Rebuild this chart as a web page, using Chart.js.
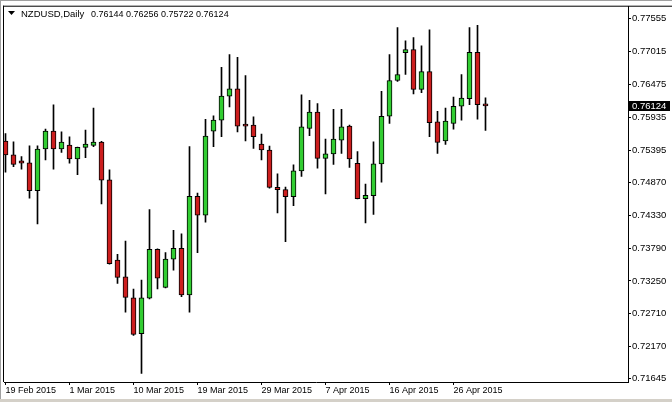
<!DOCTYPE html>
<html>
<head>
<meta charset="utf-8">
<title>NZDUSD Daily</title>
<script src="https://cdn.jsdelivr.net/npm/chart.js@4.4.0/dist/chart.umd.min.js"></script>
<style>
  html, body { margin: 0; padding: 0; background: #fff; }
  canvas { display: block; }
</style>
</head>
<body>
<canvas id="chart" width="672" height="402"></canvas>
<script>
// Daily candles, Sunday sessions included (MT4 style)
const dates = [
  '19 Feb 2015', '20 Feb 2015', '22 Feb 2015', '23 Feb 2015', '24 Feb 2015', '25 Feb 2015', '26 Feb 2015', '27 Feb 2015',
  '1 Mar 2015', '2 Mar 2015', '3 Mar 2015', '4 Mar 2015', '5 Mar 2015', '6 Mar 2015', '8 Mar 2015', '9 Mar 2015',
  '10 Mar 2015', '11 Mar 2015', '12 Mar 2015', '13 Mar 2015', '15 Mar 2015', '16 Mar 2015', '17 Mar 2015', '18 Mar 2015',
  '19 Mar 2015', '20 Mar 2015', '22 Mar 2015', '23 Mar 2015', '24 Mar 2015', '25 Mar 2015', '26 Mar 2015', '27 Mar 2015',
  '29 Mar 2015', '30 Mar 2015', '31 Mar 2015', '1 Apr 2015', '2 Apr 2015', '3 Apr 2015', '5 Apr 2015', '6 Apr 2015',
  '7 Apr 2015', '8 Apr 2015', '9 Apr 2015', '10 Apr 2015', '12 Apr 2015', '13 Apr 2015', '14 Apr 2015', '15 Apr 2015',
  '16 Apr 2015', '17 Apr 2015', '19 Apr 2015', '20 Apr 2015', '21 Apr 2015', '22 Apr 2015', '23 Apr 2015', '24 Apr 2015',
  '26 Apr 2015', '27 Apr 2015', '28 Apr 2015', '29 Apr 2015', '30 Apr 2015'
];

const opens = [
  0.75546, 0.75318, 0.75220, 0.75187, 0.74731, 0.75415, 0.75709, 0.75415,
  0.75481, 0.75253, 0.75442, 0.75474, 0.75530, 0.74910, 0.73590, 0.73318,
  0.72971, 0.72385, 0.72965, 0.73770, 0.73144, 0.73607, 0.73786, 0.73020,
  0.74638, 0.74329, 0.75709, 0.75888, 0.76284, 0.76403, 0.75803, 0.75807,
  0.75497, 0.75399, 0.74785, 0.74747, 0.74633, 0.75057, 0.75751, 0.76023,
  0.75262, 0.75334, 0.75562, 0.75790, 0.75181, 0.74601, 0.74650, 0.75171,
  0.75953, 0.76540, 0.76996, 0.77045, 0.76393, 0.76686, 0.75860, 0.75546,
  0.75833, 0.76116, 0.76240, 0.77001, 0.76144
];
const highs = [
  0.75670, 0.75534, 0.75290, 0.75469, 0.75469, 0.75741, 0.76142, 0.75697,
  0.75616, 0.75448, 0.75725, 0.76088, 0.75540, 0.75073, 0.73688, 0.73905,
  0.73118, 0.73265, 0.74422, 0.73775, 0.73714, 0.74079, 0.74024, 0.75453,
  0.74692, 0.75904, 0.75958, 0.76757, 0.76964, 0.76920, 0.76621, 0.75942,
  0.75660, 0.75464, 0.75008, 0.74790, 0.75155, 0.76305, 0.76214, 0.76159,
  0.75578, 0.76067, 0.76067, 0.75807, 0.75371, 0.74839, 0.75534, 0.76361,
  0.76964, 0.77408, 0.77192, 0.77245, 0.77110, 0.77371, 0.76035, 0.76088,
  0.76268, 0.76638, 0.77408, 0.77446, 0.76256
];
const lows = [
  0.75034, 0.75127, 0.75083, 0.74610, 0.74187, 0.75236, 0.75083, 0.75360,
  0.75181, 0.74992, 0.75274, 0.75453, 0.74513, 0.73525, 0.73209, 0.72737,
  0.72357, 0.71733, 0.72955, 0.73118, 0.73134, 0.73428, 0.72992, 0.72737,
  0.73714, 0.74214, 0.75453, 0.75616, 0.76105, 0.75697, 0.75546, 0.75425,
  0.75236, 0.74773, 0.74366, 0.73894, 0.74483, 0.74964, 0.75632, 0.75099,
  0.74676, 0.75164, 0.75344, 0.75111, 0.74595, 0.74203, 0.74340, 0.74871,
  0.75833, 0.76524, 0.76638, 0.76321, 0.76338, 0.75616, 0.75344, 0.75490,
  0.75741, 0.75888, 0.76142, 0.75904, 0.75722
];
const closes = [
  0.75318, 0.75164, 0.75181, 0.74731, 0.75415, 0.75709, 0.75415, 0.75530,
  0.75253, 0.75442, 0.75497, 0.75530, 0.74904, 0.73535, 0.73307, 0.72981,
  0.72373, 0.72971, 0.73770, 0.73297, 0.73607, 0.73786, 0.73020, 0.74638,
  0.74329, 0.75627, 0.75888, 0.76284, 0.76403, 0.75790, 0.75790, 0.75616,
  0.75399, 0.74785, 0.74747, 0.74633, 0.75057, 0.75779, 0.76023, 0.75262,
  0.75334, 0.75578, 0.75779, 0.75253, 0.74601, 0.74654, 0.75171, 0.75953,
  0.76540, 0.76638, 0.77045, 0.76393, 0.76686, 0.75849, 0.75523, 0.75872,
  0.76116, 0.76251, 0.77001, 0.76142, 0.76124
];

const yTicks = [0.77555, 0.77015, 0.76475, 0.75935, 0.75395, 0.74870, 0.74330, 0.73790, 0.73250, 0.72710, 0.72170, 0.71645];
const xTickLabels = ['19 Feb 2015', '1 Mar 2015', '10 Mar 2015', '19 Mar 2015', '29 Mar 2015', '7 Apr 2015', '16 Apr 2015', '26 Apr 2015'];

const symbol = 'NZDUSD,Daily';

const BULL = '#32cd32';
const BEAR = '#cc1e1e';
const FONT = '"Liberation Sans", Arial, sans-serif';

const idx = dates.map((d, i) => i);
const last = dates.length - 1;

// frame, header text and current price tag
const decorations = {
  id: 'decorations',
  afterDraw(chart) {
    const ctx = chart.ctx;
    const area = chart.chartArea;
    ctx.save();

    // window edges
    ctx.fillStyle = '#a0a0a0';
    ctx.fillRect(0, 0, 672, 1);
    ctx.fillRect(0, 0, 1, 402);
    ctx.fillStyle = '#d4d0c8';
    ctx.fillRect(0, 399, 672, 3);

    // plot box top and left
    ctx.fillStyle = '#000';
    ctx.fillRect(area.left - 1, area.top - 1, 672 - area.left + 1, 1);
    ctx.fillRect(area.left - 1, area.top - 1, 1, area.bottom - area.top + 1);

    // header
    ctx.beginPath();
    ctx.moveTo(8, 11);
    ctx.lineTo(15, 11);
    ctx.lineTo(11.5, 15);
    ctx.closePath();
    ctx.fill();
    ctx.font = '9.5px ' + FONT;
    ctx.textBaseline = 'alphabetic';
    ctx.textAlign = 'left';
    ctx.fillText(symbol, 21, 16.5);
    ctx.font = '9px ' + FONT;
    const ohlc = [opens[last], highs[last], lows[last], closes[last]].map(v => v.toFixed(5)).join(' ');
    ctx.fillText(ohlc, 91, 16.5);

    // price tag on the axis
    const y = Math.round(chart.scales.y.getPixelForValue(closes[last]));
    ctx.fillStyle = '#000';
    ctx.fillRect(area.right, y - 5, 42, 10);
    ctx.fillStyle = '#fff';
    ctx.font = '9.5px ' + FONT;
    ctx.textBaseline = 'middle';
    ctx.fillText(closes[last].toFixed(5), area.right + 4, y + 0.5);

    ctx.restore();
  }
};

new Chart(document.getElementById('chart'), {
  type: 'bar',
  data: {
    datasets: [
      {
        label: 'Body',
        data: idx.map(i => ({ x: i, y: [opens[i], closes[i]] })),
        backgroundColor: idx.map(i => closes[i] >= opens[i] ? BULL : BEAR),
        borderColor: '#000',
        borderWidth: 1,
        borderSkipped: false,
        barThickness: 5,
        minBarLength: 2,
        grouped: false,
        order: 1
      },
      {
        label: 'Wick',
        data: idx.map(i => ({ x: i, y: [lows[i], highs[i]] })),
        backgroundColor: '#000',
        borderWidth: 0,
        barThickness: 1,
        grouped: false,
        order: 2
      }
    ]
  },
  options: {
    responsive: false,
    animation: false,
    events: [],
    layout: { padding: { left: 4, top: 4, right: 0, bottom: 0 } },
    plugins: {
      legend: { display: false },
      tooltip: { enabled: false }
    },
    scales: {
      x: {
        type: 'linear',
        position: 'bottom',
        offset: false,
        min: -0.1875,
        max: 77.8125,
        afterBuildTicks: axis => {
          axis.ticks = xTickLabels.map(l => ({ value: dates.indexOf(l) }));
        },
        afterFit: axis => { axis.height = 20; },
        ticks: {
          autoSkip: false,
          maxRotation: 0,
          align: 'start',
          padding: 0,
          color: '#000',
          font: { family: FONT, size: 9 },
          callback: value => dates[value]
        },
        grid: {
          offset: false,
          drawOnChartArea: false,
          tickLength: 3,
          color: '#000'
        },
        border: { display: true, color: '#000' }
      },
      y: {
        type: 'linear',
        position: 'right',
        min: 0.71591,
        max: 0.777505,
        afterBuildTicks: axis => {
          axis.ticks = yTicks.map(v => ({ value: v }));
        },
        afterFit: axis => { axis.width = 44; },
        ticks: {
          autoSkip: false,
          padding: 1,
          color: '#000',
          font: { family: FONT, size: 9.5 },
          callback: value => value.toFixed(5)
        },
        grid: {
          drawOnChartArea: false,
          tickLength: 3,
          color: '#000'
        },
        border: { display: true, color: '#000' }
      }
    }
  },
  plugins: [decorations]
});
</script>
</body>
</html>
